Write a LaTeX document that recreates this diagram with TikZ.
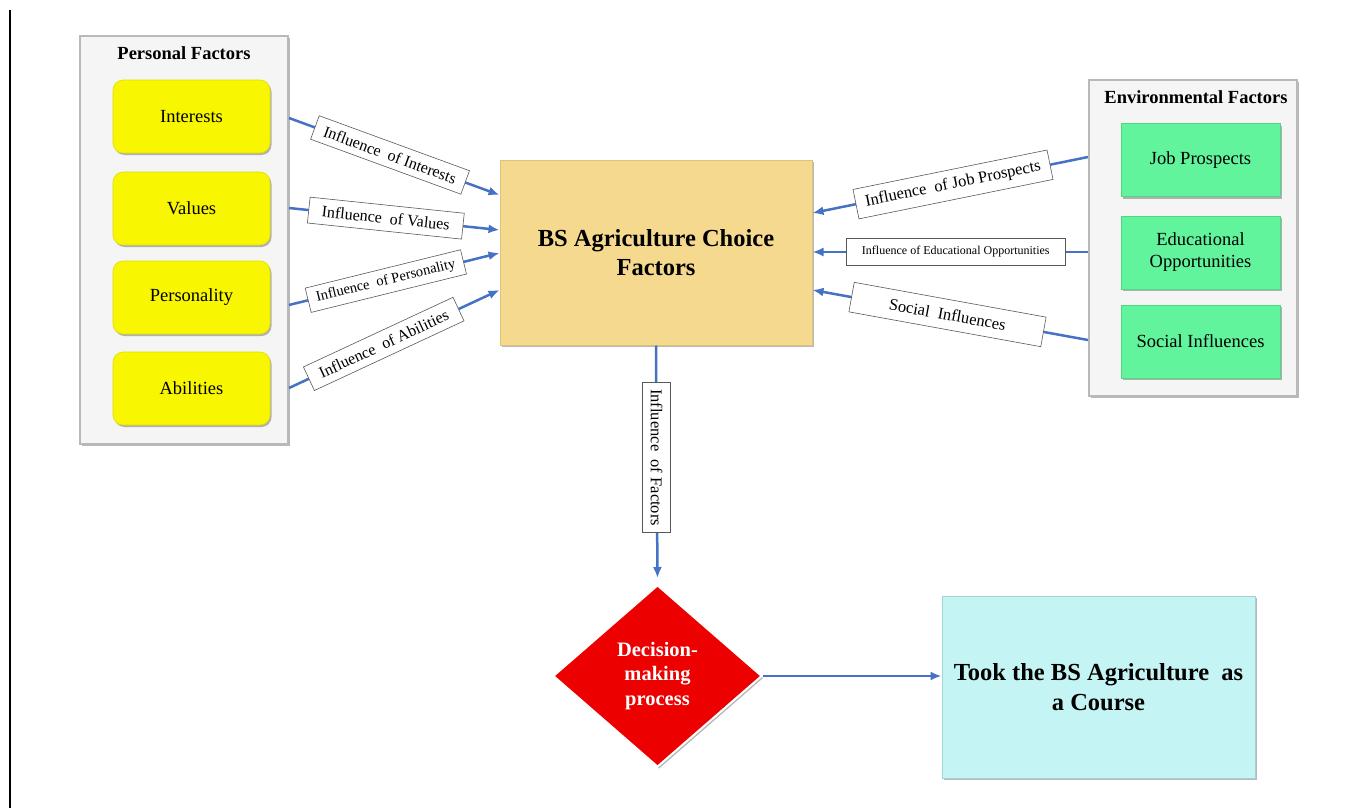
\documentclass[tikz,border=0pt]{standalone}
\usepackage{fontspec}
\setmainfont{Liberation Serif}
\usetikzlibrary{arrows.meta,shapes.geometric,shadows,calc}
\definecolor{arrowblue}{RGB}{68,114,196}
\definecolor{contfill}{RGB}{245,245,245}
\definecolor{contline}{RGB}{185,185,185}
\definecolor{yel}{RGB}{248,246,0}
\definecolor{yelline}{RGB}{225,222,0}
\definecolor{grn}{RGB}{98,244,156}
\definecolor{grnline}{RGB}{80,215,130}
\definecolor{gold}{RGB}{245,217,142}
\definecolor{goldline}{RGB}{222,196,120}
\definecolor{decred}{RGB}{236,0,0}
\definecolor{cyanbox}{RGB}{196,244,243}
\definecolor{cyanline}{RGB}{160,212,212}
\begin{document}
\begin{tikzpicture}[x=1pt,y=-1pt,
  shad/.style={drop shadow={shadow xshift=1.5pt,shadow yshift=-2pt,opacity=0.28,fill=black}},
  cont/.style={draw=contline,line width=2pt,fill=contfill,shad,inner sep=0pt},
  ttl/.style={font=\fontsize{18.5}{22}\selectfont\bfseries},
  ybox/.style={draw=yelline,line width=0.6pt,fill=yel,rounded corners=10pt,shad,minimum width=157pt,minimum height=73pt,inner sep=0pt,font=\fontsize{18.5}{22}\selectfont},
  gbox/.style={draw=grnline,line width=0.6pt,fill=grn,shad,minimum width=159pt,minimum height=73pt,inner sep=0pt,align=center,font=\fontsize{18.5}{22}\selectfont},
  arr/.style={draw=arrowblue,line width=2.5pt,-{Latex[length=11pt,width=9pt]}},
  lbl/.style={draw=black!65,line width=0.6pt,fill=white,inner sep=0pt,font=\fontsize{16}{18}\selectfont}]
\useasboundingbox (0,0) rectangle (1364,808);
% left border line
\draw[line width=1.2pt] (10,10) -- (10,808);

% Personal factors
\node[cont,minimum width=208pt,minimum height=408pt] (pf) at (184,240) {};
\node[ttl] (pft) at (184,53) {Personal Factors};
\node[ybox] (yi) at (191.5,116.5) {Interests};
\node[ybox] (yv) at (191.5,208.5) {Values};
\node[ybox] (yp) at (191.5,297.5) {Personality};
\node[ybox] (ya) at (191.5,388.5) {Abilities};

% Environmental factors
\node[cont,minimum width=208pt,minimum height=316pt] (ef) at (1193,238) {};
\node[ttl] (eft) at (1196,97) {Environmental Factors};
\node[gbox] (gj) at (1200.5,160) {Job Prospects};
\node[gbox] (ge) at (1200.5,252.5) {Educational\\Opportunities};
\node[gbox] (gs) at (1200.5,341.5) {Social Influences};

% Central box
\node[draw=goldline,line width=1pt,fill=gold,shad,minimum width=312pt,minimum height=185pt,inner sep=0pt,align=center,font=\fontsize{24.5}{29}\selectfont\bfseries] (cb) at (656,252.5) {BS Agriculture Choice\\Factors};

% Decision diamond
\node[diamond,aspect=1.15,draw=white,line width=2pt,fill=decred,shad,minimum width=209pt,minimum height=182pt,inner sep=0pt,align=center,text=white,font=\fontsize{20.5}{24.5}\selectfont\bfseries] (dm) at (657.5,676) {Decision-\\making\\process};

% Final box
\node[draw=cyanline,line width=1pt,fill=cyanbox,shad,minimum width=313pt,minimum height=182pt,inner sep=0pt,align=center,font=\fontsize{24.5}{30}\selectfont\bfseries] (fb) at (1098.5,687) {Took the BS Agriculture\ \ as\\a Course};

% connector endpoints
\coordinate (s1) at (pf.east |- 0,118);
\coordinate (s2) at (pf.east |- 0,208);
\coordinate (s3) at (pf.east |- 0,305);
\coordinate (s4) at (pf.east |- 0,388);
\coordinate (t1) at (cb.west |- 0,195);
\coordinate (t2) at (cb.west |- 0,230);
\coordinate (t3) at (cb.west |- 0,253);
\coordinate (t4) at (cb.west |- 0,290);
\coordinate (r1) at (ef.west |- 0,157);
\coordinate (r2) at (ef.west |- 0,252);
\coordinate (r3) at (ef.west |- 0,340);
\coordinate (u1) at (cb.east |- 0,213);
\coordinate (u2) at (cb.east |- 0,252);
\coordinate (u3) at (cb.east |- 0,290);
\coordinate (fin) at (fb.west |- dm.east);

% left connectors
\draw[arr] (s1) -- node[lbl,sloped,pos=0.48,minimum width=160pt,minimum height=25pt] (l1) {Influence\ \ of Interests} (t1);
\draw[arr] (s2) -- node[lbl,sloped,pos=0.46,minimum width=155pt,minimum height=26pt] (l2) {Influence\ \ of Values} (t2);
\draw[arr] (s3) -- node[lbl,sloped,pos=0.46,minimum width=160pt,minimum height=25pt,font=\fontsize{14.5}{17}\selectfont] (l3) {Influence\ \ of Personality} (t3);
\draw[arr] (s4) -- node[lbl,sloped,pos=0.45,minimum width=165pt,minimum height=26pt] (l4) {Influence\ \ of Abilities} (t4);

% right connectors
\draw[arr] (r1) -- node[lbl,sloped,pos=0.49,minimum width=198pt,minimum height=30pt,font=\fontsize{16.5}{19}\selectfont] (l5) {Influence\ \ of Job Prospects} (u1);
\draw[arr] (r2) -- node[lbl,pos=0.48,minimum width=219pt,minimum height=27pt,font=\fontsize{12}{14}\selectfont] (l6) {Influence of Educational Opportunities} (u2);
\draw[arr] (r3) -- node[lbl,sloped,pos=0.51,minimum width=195pt,minimum height=30pt,font=\fontsize{16.5}{19}\selectfont] (l7) {Social\ \ Influences} (u3);

% down and right
\draw[arr,shorten >=6pt] (cb.south) -- node[lbl,rotate=-90,pos=0.47,minimum width=150pt,minimum height=28pt,font=\fontsize{16.5}{19}\selectfont] (l8) {Influence\ \ of Factors} (dm.north);
\draw[arr] (dm.east) -- (fin);
\end{tikzpicture}
\end{document}
